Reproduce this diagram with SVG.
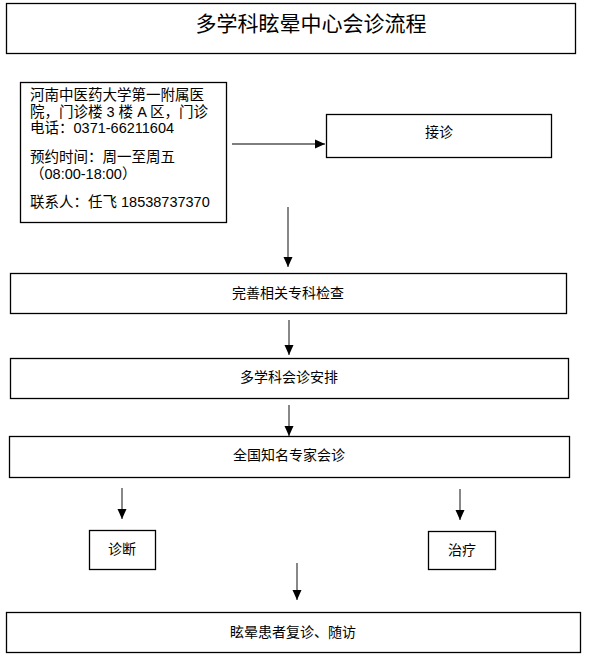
<svg xmlns="http://www.w3.org/2000/svg" width="589" height="662" viewBox="0 0 589 662">
<defs>
<style>
.box{fill:#fff;stroke:#000;stroke-width:1.3}
.t{font-family:"Liberation Sans","Noto Sans CJK SC",sans-serif;font-size:14px;fill:#000;text-anchor:middle}
.info{font-family:"Liberation Sans","Noto Sans CJK SC",sans-serif;font-size:14.5px;fill:#000}
.c{stroke:#555;stroke-width:1.4;fill:none;marker-end:url(#ah)}
.cb{stroke:#000;stroke-width:1.2;fill:none;marker-end:url(#ah)}
</style>
<marker id="ah" markerUnits="userSpaceOnUse" markerWidth="10" markerHeight="10" viewBox="0 0 10 10" refX="10" refY="5" orient="auto">
<path d="M0,0.5 L10,5 L0,9.5 Z" fill="#000"/>
</marker>
</defs>
<rect width="589" height="662" fill="#fff"/>
<g id="title">
<rect class="box" x="6.5" y="3.5" width="569" height="50"/>
<text class="t" x="311" y="31" style="font-size:21px">多学科眩晕中心会诊流程</text>
</g>
<g id="info">
<rect class="box" x="20.5" y="82.5" width="206" height="140"/>
<text class="info" x="30" y="100">河南中医药大学第一附属医</text>
<text class="info" x="30" y="117">院，门诊楼 3 楼 A 区，门诊</text>
<text class="info" x="30" y="133">电话：0371-66211604</text>
<text class="info" x="30" y="162">预约时间：周一至周五</text>
<text class="info" x="30" y="179">（08:00-18:00）</text>
<text class="info" x="30" y="207">联系人：任飞 18538737370</text>
</g>
<g id="jiezhen">
<rect class="box" x="326.5" y="114.5" width="225" height="43"/>
<text class="t" x="439" y="137">接诊</text>
</g>
<g id="wanshan">
<rect class="box" x="10.5" y="273.5" width="556" height="40"/>
<text class="t" x="288" y="298">完善相关专科检查</text>
</g>
<g id="anpai">
<rect class="box" x="10.5" y="358.5" width="558" height="40"/>
<text class="t" x="289" y="382">多学科会诊安排</text>
</g>
<g id="huizhen">
<rect class="box" x="9.5" y="436.5" width="560" height="41"/>
<text class="t" x="289" y="460">全国知名专家会诊</text>
</g>
<g id="zhenduan">
<rect class="box" x="89.5" y="530.5" width="66" height="39"/>
<text class="t" x="122" y="554">诊断</text>
</g>
<g id="zhiliao">
<rect class="box" x="428.5" y="531.5" width="67" height="38"/>
<text class="t" x="462" y="555">治疗</text>
</g>
<g id="suifang">
<rect class="box" x="6.5" y="612.5" width="574" height="40"/>
<text class="t" x="293" y="637">眩晕患者复诊、随访</text>
</g>
<g id="connectors">
<line class="cb" x1="232" y1="144" x2="325" y2="144"/>
<line class="c" x1="288" y1="207" x2="288" y2="267"/>
<line class="c" x1="289" y1="320" x2="289" y2="355"/>
<line class="c" x1="289" y1="405" x2="289" y2="436"/>
<line class="c" x1="122" y1="488" x2="122" y2="519"/>
<line class="c" x1="460" y1="489" x2="460" y2="520"/>
<line class="c" x1="297" y1="563" x2="297" y2="600"/>
</g>
</svg>
